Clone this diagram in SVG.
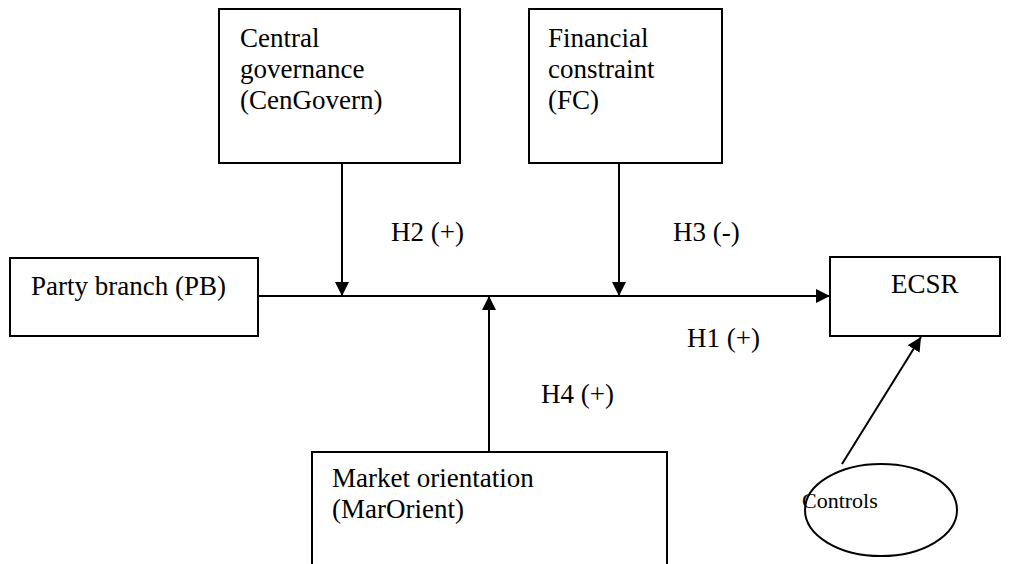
<svg xmlns="http://www.w3.org/2000/svg" width="1011" height="564" viewBox="0 0 1011 564">
<style>
.box{fill:#fff;stroke:#000;stroke-width:2}
.t{font-family:"Liberation Serif",serif;font-size:27px;fill:#000}
.c{stroke:#000;stroke-width:2;fill:none}
</style>
<defs>
<marker id="ah" viewBox="0 0 14 14" refX="14" refY="7" markerWidth="14" markerHeight="14" markerUnits="userSpaceOnUse" orient="auto">
<path d="M0,0 L14,7 L0,14 z" fill="#000"/>
</marker>
</defs>
<rect width="1011" height="564" fill="#fff"/>
<g id="connectors">
<path class="c" d="M258,296 L830,296" marker-end="url(#ah)"/>
<path class="c" d="M342,163 L342,296" marker-end="url(#ah)"/>
<path class="c" d="M619,163 L619,296" marker-end="url(#ah)"/>
<path class="c" d="M489,452 L489,296" marker-end="url(#ah)"/>
<path class="c" d="M842,464 L921,337" marker-end="url(#ah)"/>
</g>
<g id="cengovern">
<rect class="box" x="219" y="9" width="241" height="154"/>
<text class="t" x="240" y="47">Central</text>
<text class="t" x="240" y="78">governance</text>
<text class="t" x="240" y="109">(CenGovern)</text>
</g>
<g id="fc">
<rect class="box" x="529" y="9" width="193" height="154"/>
<text class="t" x="548" y="47">Financial</text>
<text class="t" x="548" y="78">constraint</text>
<text class="t" x="548" y="109">(FC)</text>
</g>
<g id="pb">
<rect class="box" x="10" y="258" width="248" height="78"/>
<text class="t" x="31" y="295">Party branch (PB)</text>
</g>
<g id="ecsr">
<rect class="box" x="830" y="257" width="170" height="79"/>
<text class="t" x="891" y="293">ECSR</text>
</g>
<g id="marorient">
<rect class="box" x="312" y="452" width="355" height="130"/>
<text class="t" x="332" y="487">Market orientation</text>
<text class="t" x="332" y="518">(MarOrient)</text>
</g>
<g id="controls">
<ellipse class="box" cx="881" cy="510" rx="76" ry="46"/>
<text class="t" x="802" y="508" style="font-size:22px">Controls</text>
</g>
<g id="labels">
<text class="t" x="391" y="241">H2 (+)</text>
<text class="t" x="673" y="241">H3 (-)</text>
<text class="t" x="687" y="347">H1 (+)</text>
<text class="t" x="541" y="403">H4 (+)</text>
</g>
</svg>
